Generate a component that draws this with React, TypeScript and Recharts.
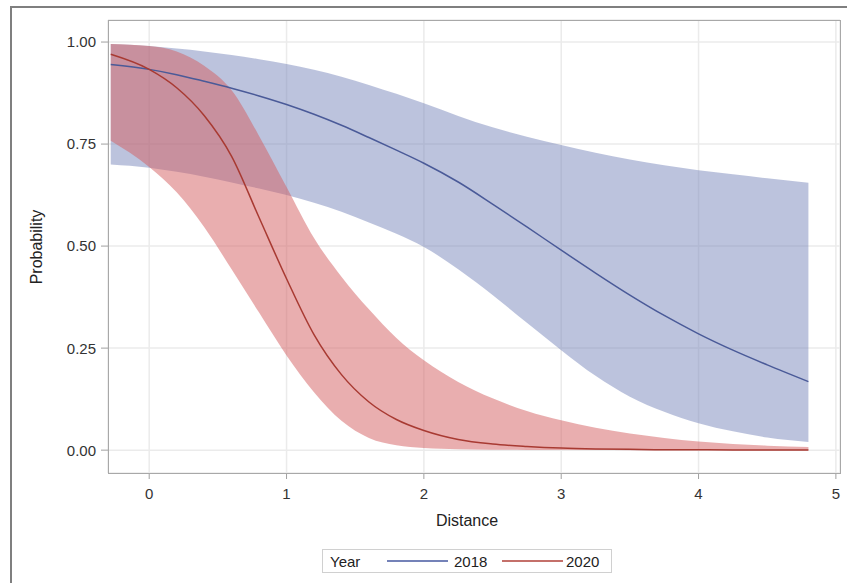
import {
  ComposedChart,
  Area,
  Line,
  XAxis,
  YAxis,
  CartesianGrid,
} from "recharts";

const distance = [
  -0.28, 0, 0.2, 0.4, 0.6, 0.8, 1.0, 1.2, 1.4, 1.6, 1.8, 2.0, 2.25, 2.5, 2.75,
  3.0, 3.25, 3.5, 3.75, 4.0, 4.25, 4.5, 4.8,
];

const fit2018 = [
  0.945, 0.933, 0.92, 0.904, 0.887, 0.868, 0.847, 0.823, 0.796, 0.766, 0.735,
  0.703, 0.657, 0.603, 0.547, 0.49, 0.434, 0.38, 0.33, 0.285, 0.245, 0.209,
  0.168,
];
const low2018 = [
  0.7, 0.692, 0.682, 0.67, 0.656, 0.641, 0.625, 0.606, 0.584, 0.558, 0.53,
  0.498, 0.443, 0.38, 0.312, 0.245, 0.182, 0.131, 0.094, 0.066, 0.046, 0.031,
  0.02,
];
const high2018 = [
  0.995, 0.99, 0.984, 0.977, 0.968, 0.958, 0.946, 0.932, 0.915, 0.895, 0.873,
  0.85, 0.819, 0.791, 0.768, 0.748, 0.729, 0.712, 0.698, 0.686, 0.676, 0.666,
  0.655,
];

const fit2020 = [
  0.97, 0.933, 0.888, 0.82, 0.72, 0.57, 0.42, 0.283, 0.185, 0.118, 0.075,
  0.048, 0.026, 0.015, 0.009, 0.005, 0.003, 0.002, 0.001, 0.001, 0.0005,
  0.0003, 0.0002,
];
const low2020 = [
  0.758, 0.694, 0.632, 0.547, 0.443, 0.337, 0.232, 0.142, 0.072, 0.03, 0.012,
  0.005, 0.002, 0.001, 0.0005, 0.0002, 0.0001, 0, 0, 0, 0, 0, 0,
];
const high2020 = [
  0.995, 0.99, 0.977, 0.942, 0.882, 0.77, 0.645, 0.52, 0.425, 0.345, 0.275,
  0.22, 0.167, 0.127, 0.096, 0.073, 0.055, 0.041, 0.03, 0.021, 0.015, 0.011,
  0.008,
];

const xTicks = [0, 1, 2, 3, 4, 5];
const yTicks = [0, 0.25, 0.5, 0.75, 1];

const data = distance.map((d, i) => ({
  distance: d,
  band2018: [low2018[i], high2018[i]],
  fit2018: fit2018[i],
  band2020: [low2020[i], high2020[i]],
  fit2020: fit2020[i],
}));

const FONT = '"Liberation Sans", Arial, sans-serif';
const BLUE = "#4a5a98";
const RED = "#a83a32";

const XTick = ({ x, y, payload }: any) => (
  <text
    x={x}
    y={y}
    dy="0.71em"
    textAnchor="middle"
    fill="#333"
    fontSize={15}
    fontFamily={FONT}
  >
    {payload.value}
  </text>
);

const YTick = ({ x, y, payload }: any) => (
  <text
    x={x}
    y={y}
    dy="0.36em"
    textAnchor="end"
    fill="#333"
    fontSize={15}
    fontFamily={FONT}
  >
    {Number(payload.value).toFixed(2)}
  </text>
);

export default function App() {
  return (
    <div
      style={{
        position: "absolute",
        left: 0,
        top: 0,
        width: 847,
        height: 583,
        overflow: "hidden",
        background: "#fff",
        fontFamily: FONT,
      }}
    >
      <div
        style={{
          position: "absolute",
          left: 10,
          top: 6,
          width: 860,
          height: 620,
          border: "2px solid #7f7f7f",
        }}
      />
      <ComposedChart
        width={847}
        height={583}
        data={data}
        margin={{ top: 20, right: 7, bottom: 80, left: 48 }}
        style={{ position: "absolute", left: 0, top: 0 }}
      >
        <CartesianGrid stroke="#ebebeb" strokeWidth={1.5} />
        <XAxis
          dataKey="distance"
          type="number"
          domain={[-0.3, 5.03]}
          ticks={xTicks}
          allowDataOverflow
          height={30}
          tickSize={6}
          tickMargin={9}
          stroke="#a0a0a0"
          axisLine={false}
          tick={<XTick />}
        />
        <YAxis
          type="number"
          domain={[-0.056, 1.054]}
          ticks={yTicks}
          allowDataOverflow
          width={60}
          tickSize={7}
          tickMargin={5}
          stroke="#a0a0a0"
          axisLine={false}
          tick={<YTick />}
        />
        <Area
          type="monotone"
          dataKey="band2018"
          fill="#7482b8"
          fillOpacity={0.48}
          stroke="none"
          isAnimationActive={false}
        />
        <Area
          type="monotone"
          dataKey="band2020"
          fill="#d45e60"
          fillOpacity={0.5}
          stroke="none"
          isAnimationActive={false}
        />
        <Line
          type="monotone"
          dataKey="fit2018"
          stroke={BLUE}
          strokeWidth={1.5}
          dot={false}
          isAnimationActive={false}
        />
        <Line
          type="monotone"
          dataKey="fit2020"
          stroke={RED}
          strokeWidth={1.5}
          dot={false}
          isAnimationActive={false}
        />
      </ComposedChart>
      <div
        style={{
          position: "absolute",
          left: 108,
          top: 20,
          width: 731,
          height: 452,
          border: "1px solid #a8a8a8",
          pointerEvents: "none",
        }}
      />
      <div
        style={{
          position: "absolute",
          left: 367,
          top: 512,
          width: 200,
          textAlign: "center",
          fontSize: 16,
          color: "#222",
        }}
      >
        Distance
      </div>
      <div
        style={{
          position: "absolute",
          left: 37,
          top: 247,
          transform: "translate(-50%, -50%) rotate(-90deg)",
          fontSize: 16,
          color: "#222",
          whiteSpace: "nowrap",
        }}
      >
        Probability
      </div>
      <div
        style={{
          position: "absolute",
          left: 322,
          top: 549,
          width: 290,
          height: 24,
          border: "1px solid #d0d0d0",
          boxSizing: "border-box",
          fontSize: 15,
          color: "#222",
        }}
      >
        <span style={{ position: "absolute", left: 7, top: 3 }}>Year</span>
        <span
          style={{
            position: "absolute",
            left: 64,
            top: 10,
            width: 61,
            height: 2,
            background: "#7482b8",
          }}
        />
        <span style={{ position: "absolute", left: 131, top: 3 }}>2018</span>
        <span
          style={{
            position: "absolute",
            left: 179,
            top: 10,
            width: 61,
            height: 2,
            background: "#c4706a",
          }}
        />
        <span style={{ position: "absolute", left: 243, top: 3 }}>2020</span>
      </div>
    </div>
  );
}
